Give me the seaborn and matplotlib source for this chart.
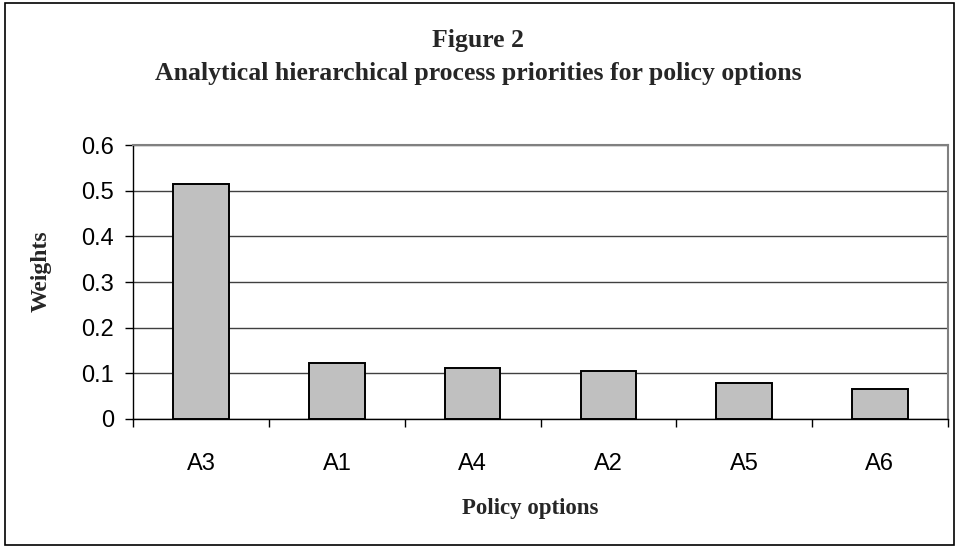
import matplotlib
matplotlib.use('Agg')
import matplotlib.pyplot as plt
import seaborn as sns
import pandas as pd
from matplotlib.patches import Rectangle

# Data
options = ['A3', 'A1', 'A4', 'A2', 'A5', 'A6']
weights = [0.516, 0.121, 0.112, 0.104, 0.078, 0.065]
y_ticks = [0, 0.1, 0.2, 0.3, 0.4, 0.5, 0.6]
y_tick_labels = ['0', '0.1', '0.2', '0.3', '0.4', '0.5', '0.6']

df = pd.DataFrame({'Option': options, 'Weight': weights})

sns.set_theme(style='white')
plt.rcParams['font.family'] = ['Liberation Sans', 'DejaVu Sans']

fig = plt.figure(figsize=(9.56, 5.48), dpi=100)
ax = fig.add_axes([0.1395, 0.2363, 0.8518, 0.4982])

sns.barplot(data=df, x='Option', y='Weight', order=options, color='#c0c0c0',
            edgecolor='black', linewidth=1.4, width=0.41, saturation=1, ax=ax)

ax.set_xlim(-0.5, len(options) - 0.5)
ax.set_ylim(0, 0.6)
ax.set_yticks(y_ticks)
ax.set_yticklabels(y_tick_labels)
ax.yaxis.grid(True, color='#404040', linewidth=1.0)
ax.set_axisbelow(True)

# plot area frame: grey top/right, black left/bottom
for side in ['top', 'right']:
    ax.spines[side].set_color('#808080')
    ax.spines[side].set_linewidth(1.5)
for side in ['left', 'bottom']:
    ax.spines[side].set_color('black')
    ax.spines[side].set_linewidth(1.0)

ax.tick_params(axis='y', which='major', left=True, length=6, width=1, color='black',
               pad=8, labelsize=17, labelcolor='black')
ax.tick_params(axis='x', which='major', bottom=True, length=0, pad=25,
               labelsize=17, labelcolor='black')
ax.set_xticks([i + 0.5 for i in range(-1, len(options))], minor=True)
ax.tick_params(axis='x', which='minor', bottom=True, length=6, width=1, color='black')

ax.set_xlabel('')
ax.set_ylabel('')

serif = ['Liberation Serif', 'DejaVu Serif']
fig.text(0.5, 0.927, 'Figure 2', ha='center', va='center', fontsize=18.5,
         fontweight='bold', family=serif)
fig.text(0.5, 0.866, 'Analytical hierarchical process priorities for policy options',
         ha='center', va='center', fontsize=18.5, fontweight='bold', family=serif)
fig.text(0.555, 0.072, 'Policy options', ha='center', va='center', fontsize=16.5,
         fontweight='bold', family=serif)
fig.text(0.043, 0.505, 'Weights', ha='center', va='center', rotation=90,
         fontsize=17, fontweight='bold', family=serif)

# outer border of the figure
fig.patches.append(Rectangle((0.0055, 0.005), 0.992, 0.99, transform=fig.transFigure,
                             fill=False, edgecolor='black', linewidth=1.2))

fig.savefig('out.png', dpi=100)
